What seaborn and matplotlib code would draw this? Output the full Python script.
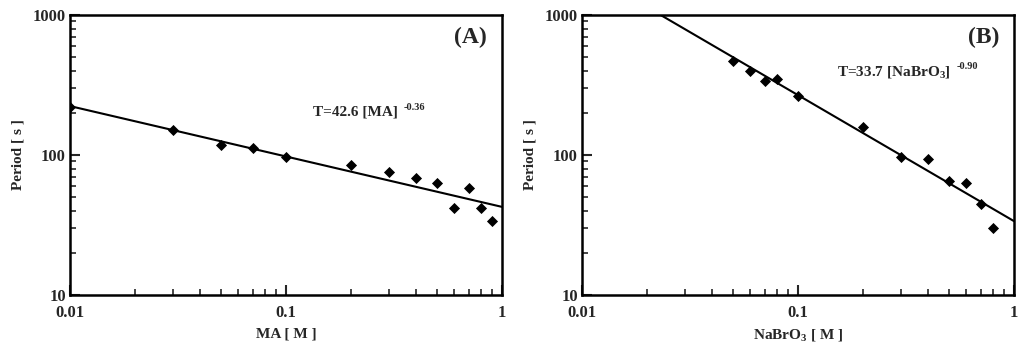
import numpy as np
import pandas as pd
import matplotlib
matplotlib.use("Agg")
import matplotlib.pyplot as plt
import seaborn as sns
from matplotlib.ticker import LogLocator, NullFormatter, FixedLocator, FixedFormatter
from matplotlib.transforms import offset_copy

sns.set_style("white")
plt.rcParams['font.family'] = ['Liberation Serif', 'DejaVu Serif']
plt.rcParams['mathtext.fontset'] = 'custom'
plt.rcParams['mathtext.rm'] = 'Liberation Serif:bold'
plt.rcParams['mathtext.bf'] = 'Liberation Serif:bold'

# Panel A data: MA concentration vs period
ma_conc = [0.01, 0.03, 0.05, 0.07, 0.1, 0.2, 0.3, 0.4, 0.5, 0.6, 0.7, 0.8, 0.9]
ma_period = [219, 151, 117, 113, 97, 85, 75, 69, 63, 42, 58, 42, 34]
ma_fit_coef, ma_fit_exp = 42.6, -0.36

# Panel B data: NaBrO3 concentration vs period
br_conc = [0.05, 0.06, 0.07, 0.08, 0.1, 0.2, 0.3, 0.4, 0.5, 0.6, 0.7, 0.8]
br_period = [469, 400, 340, 349, 264, 158, 97, 94, 65, 63, 45, 30]
br_fit_coef, br_fit_exp = 33.7, -0.90

fit_x = [0.01, 1.0]

fig = plt.figure(figsize=(10.24, 3.52), dpi=100)
axA = fig.add_axes([70/1024, 57/352, 432/1024, 280/352])
axB = fig.add_axes([582/1024, 57/352, 432/1024, 280/352])

panels = [
    (axA, ma_conc, ma_period, ma_fit_coef, ma_fit_exp, "MA [ M ]", "(A)",
     "T=42.6 [MA]", "-0.36", (0.5625, 0.654)),
    (axB, br_conc, br_period, br_fit_coef, br_fit_exp, r"NaBrO$_\mathbf{3}$ [ M ]", "(B)",
     r"T=33.7 [NaBrO$_\mathbf{3}$]", "-0.90", (0.59, 0.793)),
]

eq_texts = []
for ax, xs, ys, c, e, xlabel, tag, eq, sup, eqpos in panels:
    df = pd.DataFrame({"x": xs, "y": ys})
    fdf = pd.DataFrame({"x": fit_x, "y": [c * v ** e for v in fit_x]})
    sns.lineplot(data=fdf, x="x", y="y", ax=ax, color="black", linewidth=1.5)
    sns.scatterplot(data=df, x="x", y="y", ax=ax, marker="D", color="black",
                    s=32, edgecolor="black", linewidth=0, zorder=5)
    ax.set_xscale("log")
    ax.set_yscale("log")
    ax.set_xlim(0.01, 1)
    ax.set_ylim(10, 1000)
    for sp in ax.spines.values():
        sp.set_linewidth(1.8)
        sp.set_color("black")
    ax.xaxis.set_major_locator(FixedLocator([0.01, 0.1, 1]))
    ax.xaxis.set_major_formatter(FixedFormatter(["0.01", "0.1", "1"]))
    ax.yaxis.set_major_locator(FixedLocator([10, 100, 1000]))
    ax.yaxis.set_major_formatter(FixedFormatter(["10", "100", "1000"]))
    ax.xaxis.set_minor_locator(LogLocator(base=10, subs=np.arange(2, 10)))
    ax.yaxis.set_minor_locator(LogLocator(base=10, subs=np.arange(2, 10)))
    ax.xaxis.set_minor_formatter(NullFormatter())
    ax.yaxis.set_minor_formatter(NullFormatter())
    ax.tick_params(which="major", direction="in", length=7, width=1.5,
                   labelsize=12, bottom=True, left=True, top=False, right=False)
    ax.tick_params(axis="x", which="major", pad=7)
    ax.tick_params(axis="y", which="major", pad=3)
    ax.tick_params(which="minor", direction="in", length=4, width=1.2,
                   bottom=True, left=True, top=False, right=False)
    for lab in ax.get_xticklabels() + ax.get_yticklabels():
        lab.set_fontweight("bold")
    ax.set_xlabel(xlabel, fontsize=11, fontweight="bold", labelpad=5)
    ax.set_ylabel("Period [ s ]", fontsize=11, fontweight="bold", labelpad=6)
    ax.text(0.965, 0.92, tag, transform=ax.transAxes, ha="right", va="center",
            fontsize=17, fontweight="bold")
    t = ax.text(eqpos[0], eqpos[1], eq, transform=ax.transAxes, ha="left", va="center",
                fontsize=11, fontweight="bold")
    eq_texts.append((ax, t, sup))

fig.canvas.draw()
renderer = fig.canvas.get_renderer()
for ax, t, sup in eq_texts:
    bb = t.get_window_extent(renderer)
    x0, y0 = fig.transFigure.inverted().transform((bb.x1 + 6, bb.y1 - 2))
    fig.text(x0, y0, sup, ha="left", va="center", fontsize=7.5, fontweight="bold")

fig.savefig("out.png", dpi=100)
